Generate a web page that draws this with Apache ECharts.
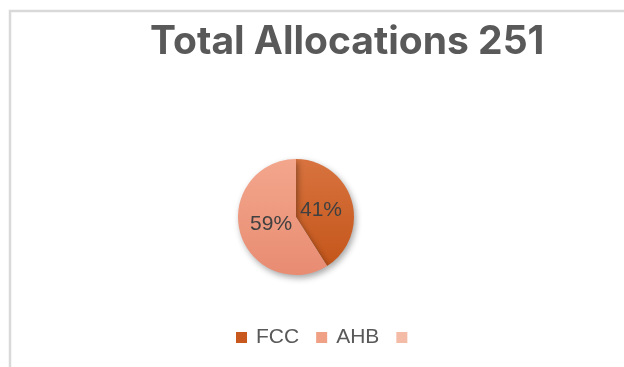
<!DOCTYPE html>
<html>
<head>
<meta charset="utf-8">
<script src="https://cdn.jsdelivr.net/npm/echarts@6/dist/echarts.min.js"></script>
<style>
  html, body { margin: 0; padding: 0; background: #ffffff; }
  #chart { width: 624px; height: 367px; }
</style>
</head>
<body>
<div id="chart"></div>
<script>
// Allocation split
const categories = ['FCC', 'AHB', ' '];
const shares = [41, 59, 0];
const titleText = 'Total Allocations 251';

// Slice fills: top and bottom stops of each slice's shading
const sliceTop = ['#D8733F', '#F3A68C', '#F8C9B3'];
const sliceBottom = ['#C4561A', '#E88C72', '#F2B59E'];
const legendFill = ['#C8581E', '#F0A084', '#F4BBA6'];

function grad(i) {
  return new echarts.graphic.LinearGradient(0, 0, 0, 1, [
    { offset: 0, color: sliceTop[i] },
    { offset: 1, color: sliceBottom[i] }
  ]);
}

const pieData = categories.map((name, i) => ({
  name: name,
  value: shares[i],
  itemStyle: { color: grad(i) }
}));

const labelData = categories.map((name, i) => ({
  name: name,
  value: shares[i],
  label: { show: shares[i] > 0 }
}));

const chart = echarts.init(document.getElementById('chart'), null, { renderer: 'canvas' });

chart.setOption({
  backgroundColor: '#ffffff',
  animation: false,
  graphic: [
    {
      type: 'polyline',
      shape: { points: [[10, 367], [10, 11], [624, 11]] },
      style: { stroke: '#d9d9d9', lineWidth: 2.5, fill: null },
      silent: true
    }
  ],
  title: {
    text: titleText,
    left: 145,
    top: 18,
    textStyle: {
      fontFamily: 'Inter',
      fontWeight: 'bold',
      fontSize: 39,
      color: '#595959'
    }
  },
  legend: {
    data: categories.map((name, i) => ({
      name: name,
      itemStyle: { color: legendFill[i] }
    })),
    left: 231,
    top: 322,
    icon: 'rect',
    itemWidth: 11,
    itemHeight: 11,
    itemGap: 17,
    selectedMode: false,
    textStyle: {
      fontFamily: 'Liberation Sans',
      fontSize: 21,
      color: '#595959',
      padding: [0, 0, 0, 4]
    }
  },
  series: [
    {
      type: 'pie',
      center: [296, 217],
      radius: [0, 58],
      startAngle: 90,
      clockwise: true,
      data: pieData,
      itemStyle: {
        shadowBlur: 6,
        shadowColor: 'rgba(0,0,0,0.35)',
        shadowOffsetX: 2,
        shadowOffsetY: 3
      },
      label: { show: false },
      labelLine: { show: false },
      emphasis: { disabled: true },
      silent: true
    },
    {
      // transparent disc that only carries the percentage labels
      type: 'pie',
      center: [296, 217],
      radius: [0, 46],
      startAngle: 90,
      clockwise: true,
      data: labelData,
      itemStyle: { color: 'rgba(0,0,0,0)' },
      label: {
        position: 'inner',
        formatter: '{c}%',
        fontFamily: 'Liberation Sans',
        fontSize: 21,
        color: '#404040'
      },
      labelLine: { show: false },
      emphasis: { disabled: true },
      silent: true
    }
  ]
});
</script>
</body>
</html>
